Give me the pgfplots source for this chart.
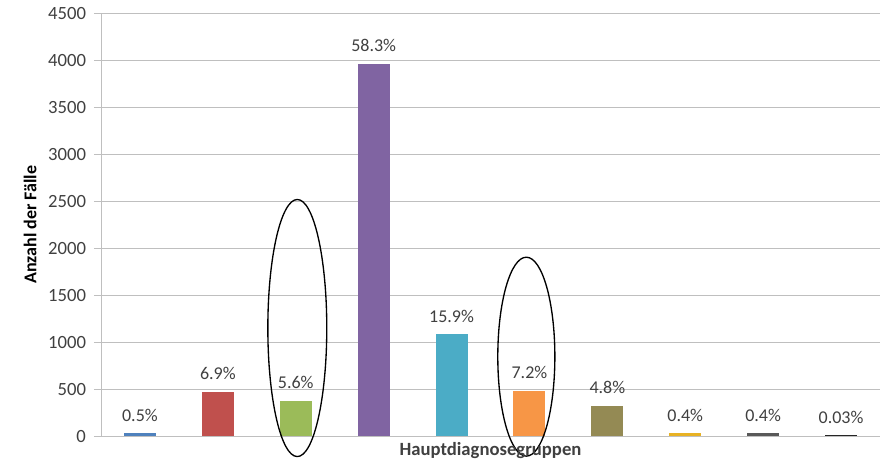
\documentclass[border=0pt]{standalone}
\usepackage{pgfplots}
\pgfplotsset{compat=1.18}
\usepackage{fontspec}
\setmainfont{Carlito}
\definecolor{txt}{HTML}{404040}
\definecolor{grd}{HTML}{BFBFBF}
\definecolor{c1}{HTML}{4F81BD}
\definecolor{c2}{HTML}{C0504D}
\definecolor{c3}{HTML}{9BBB59}
\definecolor{c4}{HTML}{8064A2}
\definecolor{c5}{HTML}{4BACC6}
\definecolor{c6}{HTML}{F79646}
\definecolor{c7}{HTML}{948A54}
\definecolor{c8}{HTML}{E8B224}
\definecolor{c9}{HTML}{595959}
\definecolor{c10}{HTML}{262626}
\begin{document}
\begin{tikzpicture}
\path[use as bounding box] (0pt,0pt) rectangle (660.75pt,346.5pt);
\begin{axis}[
  at={(75.75pt,19.5pt)}, anchor=south west,
  scale only axis, width=584.25pt, height=316.9pt,
  xmin=-0.5, xmax=9.5, ymin=0, ymax=4500,
  ytick={0,500,...,4500},
  xtick=\empty,
  ymajorgrids, grid style={grd, line width=0.75pt},
  axis line style={grd, line width=0.75pt},
  axis x line*=bottom, axis y line*=left,
  x axis line style={-}, y axis line style={-},
  tick align=outside, major tick length=5.25pt,
  ytick style={grd, line width=0.75pt},
  /pgf/number format/assume math mode=true,
  scaled y ticks=false,
  yticklabel style={text=txt, xshift=-2.5pt, font=\fontsize{14}{16}\selectfont, /pgf/number format/1000 sep={}},
  ylabel={Anzahl der Fälle},
  ylabel style={at={(axis description cs:-0.091,0.5)}, anchor=center, font=\fontsize{13.5}{16}\selectfont\bfseries, text=black},
  xlabel={Hauptdiagnosegruppen},
  xlabel style={at={(axis description cs:0.5,-0.034)}, anchor=center, font=\fontsize{14}{16}\selectfont\bfseries, text=txt},
  ybar, bar width=24pt, bar shift=0pt,
  point meta=explicit symbolic,
  nodes near coords={\pgfplotspointmeta\%},
  nodes near coords style={anchor=base, inner sep=0pt, yshift=9pt, text=txt, font=\fontsize{13.5}{16}\selectfont},
  clip=false,
]
\addplot[fill=c1, draw=none] coordinates {(0,30) [0.5]};
\addplot[fill=c2, draw=none] coordinates {(1,469) [6.9]};
\addplot[fill=c3, draw=none] coordinates {(2,378) [5.6]};
\addplot[fill=c4, draw=none] coordinates {(3,3966) [58.3]};
\addplot[fill=c5, draw=none] coordinates {(4,1085) [15.9]};
\addplot[fill=c6, draw=none] coordinates {(5,484) [7.2]};
\addplot[fill=c7, draw=none] coordinates {(6,322) [4.8]};
\addplot[fill=c8, draw=none] coordinates {(7,27) [0.4]};
\addplot[fill=c9, draw=none] coordinates {(8,27) [0.4]};
\addplot[fill=c10, draw=none] coordinates {(9,8) [0.03]};
\draw[black, line width=1pt] (axis cs:2.02,1150) ellipse [x radius=22.1pt, y radius=96.4pt];
\draw[black, line width=1pt] (axis cs:4.96,845) ellipse [x radius=21.4pt, y radius=74.6pt];
\end{axis}
\end{tikzpicture}
\end{document}
